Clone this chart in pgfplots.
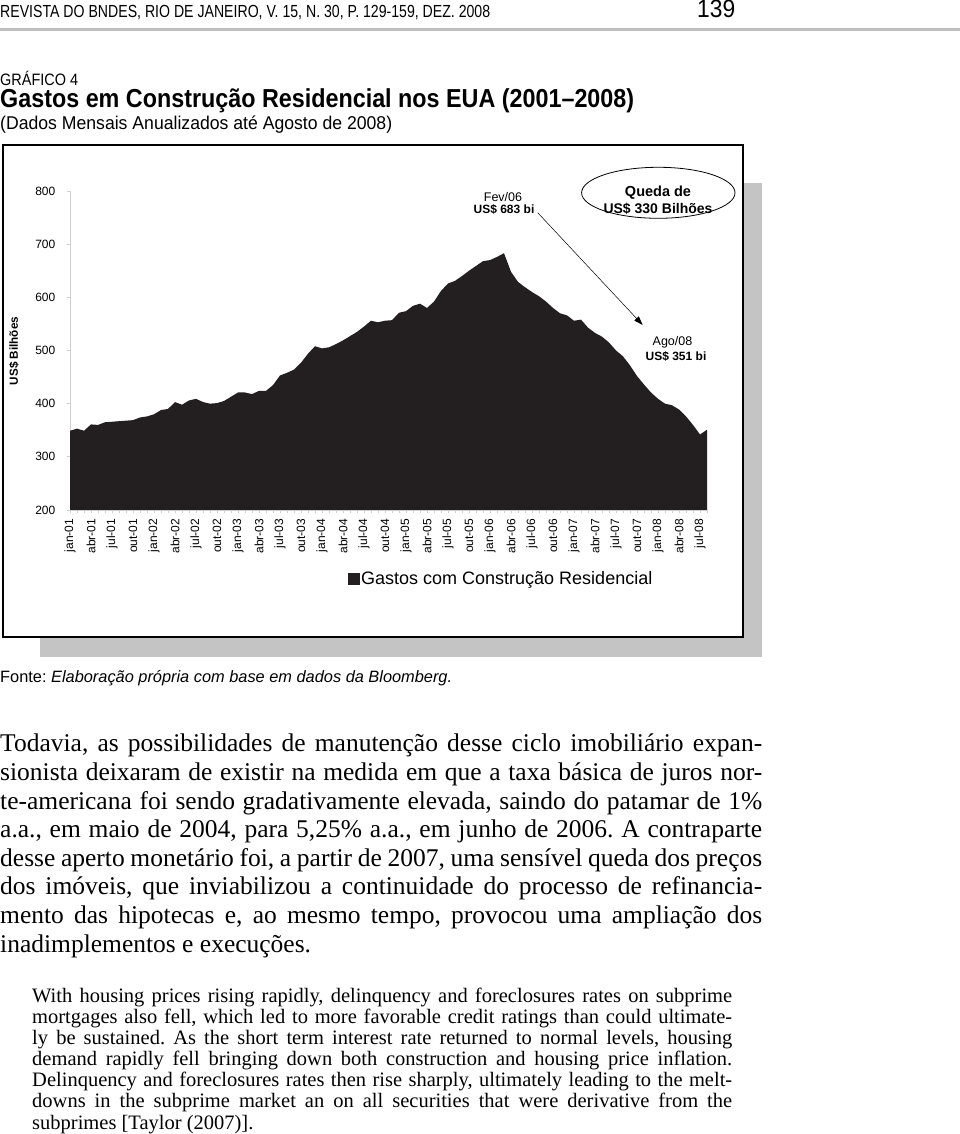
\documentclass[border=0pt]{standalone}
\usepackage{fontspec}
\setmainfont{Liberation Serif}
\newfontfamily\arial{Liberation Sans}
\usepackage{graphicx}
\usepackage{pgfplots}
\pgfplotsset{compat=1.18}
\usetikzlibrary{arrows.meta}
\definecolor{cfill}{HTML}{231F20}
\definecolor{shadow}{HTML}{C4C4C4}
\definecolor{axgray}{HTML}{CFCFCF}
\newcommand{\fs}[1]{\fontsize{#1}{#1}\selectfont}
\frenchspacing
\begin{document}
\begin{tikzpicture}
\path[use as bounding box] (0pt,0pt) rectangle (960pt,1134pt);

% page header
\node[anchor=base west, inner sep=0] at (0pt,1116pt)
  {\resizebox{490pt}{\height}{\fs{17.5}\arial REVISTA DO BNDES, RIO DE JANEIRO, V. 15, N. 30, P. 129-159, DEZ. 2008}};
\node[anchor=base west, inner sep=0] at (697pt,1116pt) {\resizebox{38pt}{\height}{\fs{25}\arial 139}};
\draw[gray!50, line width=3pt] (0pt,1104.5pt) -- (960pt,1104.5pt);

% chart titles
\node[anchor=base west, inner sep=0] at (0pt,1048pt)
  {\resizebox{78pt}{\height}{\fs{16.5}\arial GRÁFICO 4}};
\node[anchor=base west, inner sep=0] at (0pt,1026pt)
  {\resizebox{634pt}{\height}{\fs{26}\arial\bfseries Gastos em Construção Residencial nos EUA (2001–2008)}};
\node[anchor=base west, inner sep=0] at (0pt,1004pt)
  {\resizebox{392pt}{\height}{\fs{18.5}\arial (Dados Mensais Anualizados até Agosto de 2008)}};

% frame with shadow
\fill[shadow] (40pt,477pt) rectangle (762pt,951pt);
\draw[fill=white, line width=1.5pt] (3pt,497pt) rectangle (743pt,989pt);

\begin{axis}[
    at={(70pt,624pt)}, anchor=south west,
    scale only axis, width=637pt, height=319pt,
    xmin=0, xmax=91, ymin=200, ymax=800,
    axis x line*=bottom, axis y line*=left,
    axis line style={axgray, line width=0.8pt},
    tick style={axgray, line width=0.8pt},
    tick align=outside,
    major tick length=3.5pt, minor tick length=3.5pt,
    ytick={200,300,...,800},
    yticklabel style={font=\fs{12}\arial, inner sep=0pt},
    yticklabel shift=11pt,
    /pgf/number format/assume math mode=true,
    xtick={0,3,...,90},
    minor xtick={0,1,...,91},
    xticklabels={jan-01,abr-01,jul-01,out-01,jan-02,abr-02,jul-02,out-02,
      jan-03,abr-03,jul-03,out-03,jan-04,abr-04,jul-04,out-04,
      jan-05,abr-05,jul-05,out-05,jan-06,abr-06,jul-06,out-06,
      jan-07,abr-07,jul-07,out-07,jan-08,abr-08,jul-08},
    xticklabel style={font=\fs{12}\arial, rotate=90, anchor=east, inner sep=0pt},
    xticklabel shift=5pt,
    legend style={at={(0.4364,-0.2163)}, anchor=west, draw=none, fill=none,
      inner sep=0pt, nodes={inner sep=1pt}, font=\fs{18}\arial},
    legend image code/.code={\fill[cfill] (0pt,-6pt) rectangle (12pt,6pt);},
]
\addplot[fill=cfill, draw=none] coordinates {
 (0,349) (1,353) (2,349) (3,361) (4,360) (5,365) (6,366) (7,367) (8,368) (9,369)
 (10,374) (11,376) (12,380) (13,388) (14,390) (15,403) (16,398) (17,406) (18,409) (19,403)
 (20,400) (21,401) (22,405) (23,413) (24,421) (25,421) (26,418) (27,424) (28,424) (29,435)
 (30,453) (31,458) (32,464) (33,477) (34,494) (35,508) (36,504) (37,506) (38,512) (39,519)
 (40,527) (41,535) (42,545) (43,556) (44,553) (45,556) (46,557) (47,571) (48,574) (49,584)
 (50,588) (51,580) (52,592) (53,612) (54,626) (55,631) (56,640) (57,650) (58,659) (59,668)
 (60,670) (61,676) (62,683) (63,648) (64,629) (65,619) (66,610) (67,602) (68,592) (69,580)
 (70,570) (71,566) (72,556) (73,558) (74,543) (75,533) (76,526) (77,515) (78,500) (79,489)
 (80,472) (81,452) (82,436) (83,421) (84,409) (85,400) (86,397) (87,389) (88,376) (89,360)
 (90,342) (91,351)
} \closedcycle;
\addlegendentry{Gastos com Construção Residencial}
\end{axis}

% axis title
\node[rotate=90, inner sep=0] at (14pt,783pt) {\fs{11.7}\arial\bfseries US\$ Bilhões};

% annotations
\node[anchor=base, inner sep=0] at (503pt,932.3pt) {\fs{12.5}\arial Fev/06};
\node[anchor=base, inner sep=0] at (504pt,920pt) {\fs{12}\arial\bfseries US\$ 683 bi};
\draw[line width=0.5pt, -{Triangle[length=9pt, width=6pt]}] (537.7pt,921.3pt) -- (642.7pt,809pt);
\draw[line width=0.8pt] (658.3pt,941.2pt) ellipse [x radius=76.7pt, y radius=25.5pt];
\node[anchor=base, inner sep=0] at (658pt,937pt) {\fs{14.5}\arial\bfseries Queda de};
\node[anchor=base, inner sep=0] at (658pt,920pt) {\fs{14}\arial\bfseries US\$ 330 Bilhões};
\node[anchor=base, inner sep=0] at (672.5pt,788pt) {\fs{12.5}\arial Ago/08};
\node[anchor=base, inner sep=0] at (676pt,773pt) {\fs{12}\arial\bfseries US\$ 351 bi};

% source
\node[anchor=base west, inner sep=0] at (0pt,451pt)
  {\resizebox{452pt}{\height}{\fs{16.4}\arial Fonte: \itshape Elaboração própria com base em dados da Bloomberg.}};

% body text
\begin{scope}[every node/.style={anchor=base west, inner sep=0}]
\node at (0pt,382pt)   {\makebox[762pt][s]{\fs{25.5}Todavia, as possibilidades de manutenção desse ciclo imobiliário expan-}};
\node at (0pt,353.4pt) {\makebox[762pt][s]{\fs{25.5}sionista deixaram de existir na medida em que a taxa básica de juros nor-}};
\node at (0pt,324.8pt) {\makebox[762pt][s]{\fs{25.5}te-americana foi sendo gradativamente elevada, saindo do patamar de 1\%}};
\node at (0pt,296.2pt) {\makebox[762pt][s]{\fs{25.5}a.a., em maio de 2004, para 5,25\% a.a., em junho de 2006. A contraparte}};
\node at (0pt,267.6pt) {\makebox[762pt][s]{\fs{25.5}desse aperto monetário foi, a partir de 2007, uma sensível queda dos preços}};
\node at (0pt,239pt)   {\makebox[762pt][s]{\fs{25.5}dos imóveis, que inviabilizou a continuidade do processo de refinancia-}};
\node at (0pt,210.4pt) {\makebox[762pt][s]{\fs{25.5}mento das hipotecas e, ao mesmo tempo, provocou uma ampliação dos}};
\node at (0pt,181.8pt) {\fs{25.5}inadimplementos e execuções.};

\node at (32pt,131pt) {\makebox[700pt][s]{\fs{20.5}With housing prices rising rapidly, delinquency and foreclosures rates on subprime}};
\node at (32pt,110pt) {\makebox[700pt][s]{\fs{20.5}mortgages also fell, which led to more favorable credit ratings than could ultimate-}};
\node at (32pt,89pt)  {\makebox[700pt][s]{\fs{20.5}ly be sustained. As the short term interest rate returned to normal levels, housing}};
\node at (32pt,68pt)  {\makebox[700pt][s]{\fs{20.5}demand rapidly fell bringing down both construction and housing price inflation.}};
\node at (32pt,47pt)  {\makebox[700pt][s]{\fs{20.5}Delinquency and foreclosures rates then rise sharply, ultimately leading to the melt-}};
\node at (32pt,26pt)  {\makebox[700pt][s]{\fs{20.5}downs in the subprime market an on all securities that were derivative from the}};
\node at (32pt,5pt)   {\fs{20.5}subprimes [Taylor (2007)].};
\end{scope}
\end{tikzpicture}
\end{document}
